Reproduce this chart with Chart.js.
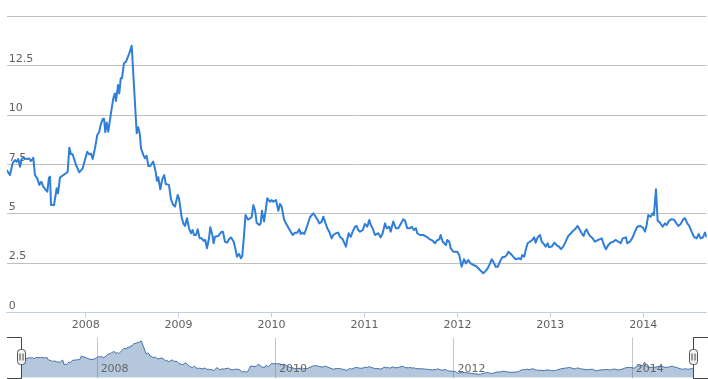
<!DOCTYPE html>
<html><head><meta charset="utf-8">
<script src="https://cdn.jsdelivr.net/npm/chart.js@4.4.1/dist/chart.umd.min.js"></script>
<style>
html,body{margin:0;padding:0;background:#fff;}
#wrap{position:relative;width:708px;height:379px;overflow:hidden;background:#fff;}
#main{position:absolute;left:0;top:0;}
#nav{position:absolute;left:0;top:330px;}
</style></head><body>
<div id="wrap"><canvas id="main" width="708" height="335"></canvas><canvas id="nav" width="708" height="49"></canvas></div>
<script>
// decimal years
const dates = [
2007.150,2007.185,2007.214,2007.239,2007.258,2007.275,2007.293,2007.311,2007.329,2007.365,2007.393,2007.408,2007.430,2007.436,2007.454,2007.479,2007.501,2007.522,2007.544,2007.573,2007.587,2007.605,2007.616,2007.627,2007.659,2007.688,2007.702,2007.723,2007.759,2007.788,2007.806,2007.824,2007.842,2007.860,2007.896,2007.931,2007.968,2007.992,
2008.017,2008.039,2008.057,2008.075,2008.100,2008.125,2008.146,2008.161,2008.183,2008.197,2008.211,2008.226,2008.243,2008.269,2008.297,2008.315,2008.326,2008.348,2008.362,2008.377,2008.391,2008.412,2008.434,2008.469,2008.495,2008.549,2008.566,2008.584,2008.595,2008.620,2008.638,2008.656,2008.674,2008.695,2008.727,2008.753,2008.767,2008.781,2008.803,2008.824,2008.846,2008.861,2008.896,2008.918,2008.943,2008.961,2008.990,
2009.004,2009.033,2009.050,2009.069,2009.090,2009.112,2009.133,2009.151,2009.165,2009.187,2009.205,2009.227,2009.248,2009.270,2009.287,2009.305,2009.327,2009.341,2009.362,2009.377,2009.391,2009.427,2009.463,2009.477,2009.499,2009.521,2009.542,2009.564,2009.593,2009.614,2009.628,2009.650,2009.671,2009.685,2009.700,2009.720,2009.747,2009.786,2009.804,2009.822,2009.840,2009.868,2009.883,2009.897,2009.919,2009.940,2009.954,2009.983,
2010.002,2010.019,2010.048,2010.073,2010.091,2010.109,2010.134,2010.155,2010.180,2010.206,2010.228,2010.252,2010.277,2010.299,2010.314,2010.335,2010.352,2010.371,2010.395,2010.414,2010.449,2010.468,2010.492,2010.514,2010.540,2010.557,2010.575,2010.600,2010.621,2010.647,2010.664,2010.693,2010.718,2010.736,2010.766,2010.801,2010.815,2010.830,2010.852,2010.873,2010.898,2010.916,2010.933,2010.952,2010.981,
2011.005,2011.030,2011.052,2011.067,2011.088,2011.113,2011.149,2011.174,2011.196,2011.221,2011.239,2011.267,2011.282,2011.310,2011.339,2011.364,2011.390,2011.418,2011.436,2011.461,2011.490,2011.508,2011.533,2011.554,2011.568,2011.597,2011.633,2011.669,2011.705,2011.734,2011.759,2011.777,2011.805,2011.820,2011.842,2011.877,2011.891,2011.913,2011.928,2011.956,2011.999,
2012.020,2012.046,2012.071,2012.092,2012.117,2012.143,2012.171,2012.200,2012.225,2012.243,2012.279,2012.297,2012.326,2012.351,2012.369,2012.386,2012.412,2012.434,2012.458,2012.483,2012.512,2012.530,2012.548,2012.577,2012.601,2012.627,2012.663,2012.684,2012.698,2012.720,2012.735,2012.756,2012.781,2012.806,2012.827,2012.842,2012.864,2012.889,2012.907,2012.924,2012.950,2012.972,2012.986,
2013.015,2013.043,2013.068,2013.093,2013.115,2013.139,2013.165,2013.193,2013.222,2013.247,2013.265,2013.294,2013.319,2013.337,2013.359,2013.373,2013.391,2013.408,2013.427,2013.456,2013.480,2013.516,2013.553,2013.577,2013.599,2013.624,2013.649,2013.677,2013.706,2013.731,2013.757,2013.779,2013.814,2013.828,2013.857,2013.886,2013.911,2013.936,2013.965,2013.994,
2014.019,2014.037,2014.054,2014.080,2014.101,2014.115,2014.137,2014.155,2014.180,2014.209,2014.234,2014.252,2014.280,2014.306,2014.331,2014.352,2014.377,2014.403,2014.431,2014.449,2014.474,2014.495,2014.521,2014.546,2014.575,2014.596,2014.618,2014.643,2014.664,2014.683
];
const values = [
7.22,6.96,7.56,7.72,7.64,7.77,7.38,7.77,7.84,7.77,7.80,7.67,7.77,7.84,6.96,6.79,6.46,6.62,6.37,6.20,6.12,6.83,6.88,5.44,5.44,6.29,6.03,6.83,6.96,7.05,7.13,8.35,8.01,8.01,7.47,7.10,7.30,7.72,
8.14,8.01,8.05,7.77,8.32,8.99,9.16,9.50,9.80,9.82,9.13,9.63,9.16,10.00,10.85,11.10,10.71,11.53,11.10,11.87,11.87,12.63,12.71,13.13,13.52,9.08,9.38,8.99,8.32,7.98,7.81,7.93,7.42,7.42,7.64,7.13,6.67,6.85,6.24,6.74,6.96,6.51,6.46,5.73,5.44,5.36,5.95,
5.78,4.82,4.51,4.38,4.77,4.26,4.01,4.17,3.92,3.92,4.21,3.75,3.75,3.62,3.67,3.25,3.75,4.31,3.95,3.50,3.83,3.87,4.09,4.09,3.58,3.53,3.70,3.80,3.58,3.16,2.82,2.96,2.74,2.85,3.67,4.93,4.70,4.82,5.44,5.19,4.54,4.43,4.50,5.15,4.60,5.27,5.78,5.61,
5.69,5.61,5.69,5.15,5.49,5.36,4.72,4.51,4.30,4.09,3.92,4.04,4.04,4.21,3.97,4.04,3.97,4.21,4.54,4.82,5.02,4.90,4.72,4.51,4.60,4.85,4.60,4.26,4.09,3.75,3.92,4.01,4.04,3.83,3.70,3.33,3.70,4.01,3.83,4.09,4.34,4.38,4.17,4.09,4.17,
4.48,4.34,4.68,4.43,4.26,3.92,4.01,3.80,4.01,4.51,4.26,4.34,4.09,4.60,4.26,4.26,4.48,4.72,4.65,4.26,4.26,4.34,4.17,4.26,4.01,3.92,3.92,3.83,3.70,3.63,3.50,3.63,3.70,3.92,3.58,3.41,3.67,3.58,3.25,3.07,3.07,
2.90,2.31,2.69,2.48,2.65,2.48,2.40,2.35,2.23,2.14,1.98,2.06,2.23,2.48,2.69,2.57,2.31,2.31,2.57,2.79,2.82,2.90,3.07,2.95,2.82,2.69,2.74,2.69,2.90,2.82,3.16,3.50,3.58,3.67,3.80,3.53,3.80,3.92,3.58,3.50,3.33,3.50,3.30,
3.33,3.53,3.41,3.33,3.20,3.33,3.58,3.87,4.01,4.14,4.21,4.38,4.17,4.01,3.87,4.09,4.21,4.01,3.87,3.75,3.58,3.67,3.75,3.41,3.20,3.41,3.53,3.58,3.67,3.58,3.50,3.75,3.80,3.50,3.58,3.80,4.09,4.34,4.38,4.31,
4.09,4.43,4.93,4.85,5.02,4.93,6.24,4.65,4.54,4.34,4.51,4.43,4.65,4.72,4.70,4.54,4.38,4.48,4.72,4.77,4.51,4.38,4.09,3.83,3.75,3.97,3.75,3.80,4.04,3.80
];
const yTickValues = [0, 2.5, 5, 7.5, 10, 12.5, 15];
const xTickYears = [2008, 2009, 2010, 2011, 2012, 2013, 2014];
const navTickYears = [2008, 2010, 2012, 2014];

const points = dates.map((d, i) => ({x: d, y: values[i]}));
const xMin = dates[0], xMax = dates[dates.length - 1];
const FONT = {family: '"DejaVu Sans", Verdana, sans-serif', size: 11};

new Chart(document.getElementById('main'), {
  type: 'line',
  data: {datasets: [{data: points, borderColor: '#2f7ed8', borderWidth: 2, pointRadius: 0, tension: 0, fill: false, borderJoinStyle: 'round'}]},
  options: {
    responsive: false, animation: false, events: [],
    layout: {padding: {left: 6.7, right: 1.3, top: 16.5, bottom: 0}},
    plugins: {legend: {display: false}, tooltip: {enabled: false}},
    scales: {
      x: {
        type: 'linear', min: xMin, max: xMax,
        afterBuildTicks: s => { s.ticks = xTickYears.map(v => ({value: v})); },
        afterFit: s => { s.height = 22.7; },
        grid: {display: true, drawOnChartArea: false, drawTicks: true, tickLength: 5, color: '#C0D0E0', lineWidth: 1},
        border: {display: true, color: '#C0D0E0', width: 1},
        ticks: {color: '#606060', font: FONT, padding: 1, maxRotation: 0, autoSkip: false, callback: v => String(v)}
      },
      y: {
        type: 'linear', min: 0, max: 15,
        afterBuildTicks: s => { s.ticks = yTickValues.map(v => ({value: v})); },
        afterFit: s => { s.width = 0; },
        grid: {color: '#C0C0C0', lineWidth: 1, drawTicks: false},
        border: {display: false},
        ticks: {mirror: true, padding: 2, labelOffset: -6.5, color: '#606060', font: FONT,
                callback: v => (v === 15 ? '' : String(v))}
      }
    }
  }
});

const vMin = Math.min(...values), vMax = Math.max(...values), vr = vMax - vMin;

const navDecor = {
  id: 'navDecor',
  afterDraw(chart) {
    const ctx = chart.ctx, xs = chart.scales.x, a = chart.chartArea;
    ctx.save();
    // labels
    ctx.font = '11px "DejaVu Sans", Verdana, sans-serif';
    ctx.fillStyle = '#666666';
    ctx.textAlign = 'left';
    ctx.textBaseline = 'middle';
    navTickYears.forEach(y => { ctx.fillText(String(y), xs.getPixelForValue(y) + 3.5, 39.2); });
    // outline
    const L = Math.round(a.left) + 0.5, R = Math.round(a.right) + 0.5, T = Math.round(a.top) - 0.5, B = Math.round(a.bottom) + 0.5;
    ctx.strokeStyle = '#444';
    ctx.lineWidth = 1;
    ctx.beginPath();
    ctx.moveTo(7, T); ctx.lineTo(L, T); ctx.lineTo(L, B + 4);
    ctx.moveTo(708, T); ctx.lineTo(R, T); ctx.lineTo(R, B + 4);
    ctx.moveTo(7, 48.5); ctx.lineTo(L, 48.5);
    ctx.moveTo(R, 48.5); ctx.lineTo(708, 48.5);
    ctx.stroke();
    // handles
    [L, R].forEach(x => {
      const hx = x - 4, hy = 19.5, hw = 8, hh = 15, r = 3;
      ctx.beginPath();
      ctx.moveTo(hx + r, hy); ctx.lineTo(hx + hw - r, hy); ctx.quadraticCurveTo(hx + hw, hy, hx + hw, hy + r);
      ctx.lineTo(hx + hw, hy + hh - r); ctx.quadraticCurveTo(hx + hw, hy + hh, hx + hw - r, hy + hh);
      ctx.lineTo(hx + r, hy + hh); ctx.quadraticCurveTo(hx, hy + hh, hx, hy + hh - r);
      ctx.lineTo(hx, hy + r); ctx.quadraticCurveTo(hx, hy, hx + r, hy);
      ctx.fillStyle = '#F2F2F2'; ctx.fill();
      ctx.strokeStyle = '#555'; ctx.stroke();
      ctx.beginPath();
      ctx.moveTo(x - 1.5, hy + 4); ctx.lineTo(x - 1.5, hy + 11);
      ctx.moveTo(x + 1.5, hy + 4); ctx.lineTo(x + 1.5, hy + 11);
      ctx.strokeStyle = '#444'; ctx.stroke();
    });
    ctx.restore();
  }
};

new Chart(document.getElementById('nav'), {
  type: 'line',
  data: {datasets: [{data: points, borderColor: '#4572A7', borderWidth: 1, backgroundColor: 'rgba(69,114,167,0.4)', fill: 'start', pointRadius: 0, tension: 0}]},
  options: {
    responsive: false, animation: false, events: [],
    layout: {padding: {left: 21.3, right: 14.7, top: 7.7, bottom: 1.3}},
    plugins: {legend: {display: false}, tooltip: {enabled: false}},
    scales: {
      x: {
        type: 'linear', min: xMin, max: xMax,
        afterBuildTicks: s => { s.ticks = navTickYears.map(v => ({value: v})); },
        afterFit: s => { s.height = 0; },
        grid: {color: '#C4C4C4', lineWidth: 1, drawTicks: false},
        border: {display: false},
        ticks: {display: false}
      },
      y: {display: false, min: vMin - 0.1 * vr, max: vMax + 0.1 * vr}
    }
  },
  plugins: [navDecor]
});
</script>
</body></html>
